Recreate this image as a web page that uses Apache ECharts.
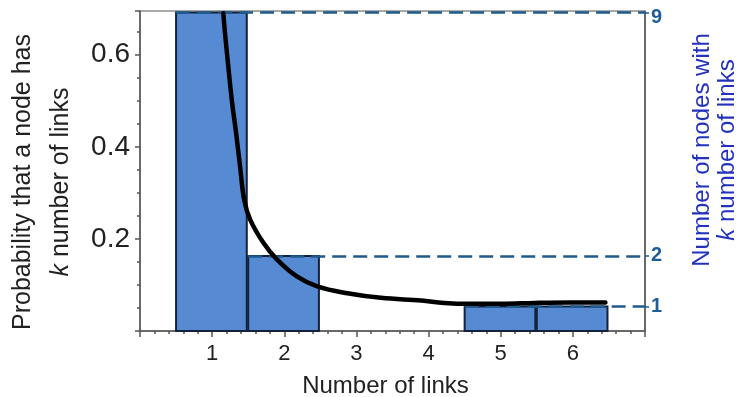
<!DOCTYPE html>
<html>
<head>
<meta charset="utf-8">
<script src="https://cdn.jsdelivr.net/npm/echarts@6/dist/echarts.min.js"></script>
<style>
  html, body { margin: 0; padding: 0; background: #ffffff; }
  #chart { width: 739px; height: 397px; }
</style>
</head>
<body>
<div id="chart"></div>
<script>
// Degree distribution: k = number of links per node
var links = [1, 2, 5, 6];
var nodeCounts = [9, 2, 1, 1];
var probabilities = [0.692, 0.163, 0.053, 0.053];

// Fitted power-law style trend (k, P(k))
var trendK = [1.155, 1.178, 1.225, 1.272, 1.332, 1.388, 1.444, 1.527, 1.713, 1.900,
              2.179, 2.457, 2.876, 3.340, 3.898, 4.219, 4.550, 5.014, 5.474, 5.944, 6.451];
var trendP = [0.690, 0.647, 0.573, 0.502, 0.430, 0.356, 0.285, 0.242, 0.191, 0.155,
              0.118, 0.097, 0.082, 0.072, 0.066, 0.061, 0.059, 0.059, 0.061, 0.062, 0.062];

// Tick labels
var xTickLabels = ['1', '2', '3', '4', '5', '6'];
var yTickLabels = ['0.2', '0.4', '0.6'];

var FONT = '"Liberation Sans", Arial, Helvetica, sans-serif';
var X_MAX = 7;
var Y_MAX = 0.695;
var BAR_LEFT = 0.5, BAR_RIGHT = 0.48;

// one dashed guide per distinct count level, starting at the first bar with that count
var levelValues = [], levelStarts = [], levelCounts = [];
for (var i = 0; i < links.length; i++) {
  var idx = levelValues.indexOf(probabilities[i]);
  if (idx < 0) {
    levelValues.push(probabilities[i]);
    levelStarts.push(links[i] - BAR_LEFT);
    levelCounts.push(nodeCounts[i]);
  }
}

var barData = links.map(function (k, i) { return [k, probabilities[i]]; });
var trendData = trendK.map(function (k, i) { return [k, trendP[i]]; });
var guideLines = levelValues.map(function (p, i) {
  return [{ coord: [levelStarts[i], p] }, { coord: [X_MAX, p] }];
});

var chart = echarts.init(document.getElementById('chart'), null, { renderer: 'canvas' });

chart.setOption({
  animation: false,
  backgroundColor: '#ffffff',
  grid: {
    left: 140, right: 94, top: 11, bottom: 66,
    outerBoundsMode: 'none',
    containLabel: false,
    show: true, borderColor: '#555555', borderWidth: 1, backgroundColor: 'transparent'
  },
  xAxis: {
    type: 'value',
    min: 0, max: X_MAX, interval: 1,
    name: 'Number of links',
    nameLocation: 'middle',
    nameGap: 43,
    nameTextStyle: { fontFamily: FONT, fontSize: 24, color: '#222222', padding: [0, 14, 0, 0] },
    axisLine: { show: true, lineStyle: { color: '#555555', width: 1.5 } },
    axisTick: { show: true, inside: false, length: 6, lineStyle: { color: '#555555', width: 1.5 } },
    minorTick: { show: true, splitNumber: 5, length: 3, lineStyle: { color: '#555555', width: 1.5 } },
    splitLine: { show: false },
    axisLabel: {
      fontFamily: FONT, fontSize: 22, color: '#222222', margin: 12,
      formatter: function (v) {
        var i = xTickLabels.indexOf(String(v));
        return i >= 0 ? xTickLabels[i] : '';
      }
    }
  },
  yAxis: [{
    type: 'value',
    position: 'left',
    min: 0, max: Y_MAX, interval: 0.2,
    name: 'Probability that a node has\n{k|k} number of links',
    nameLocation: 'middle',
    nameRotate: 90,
    nameGap: 52,
    nameTextStyle: {
      fontFamily: FONT, fontSize: 25, lineHeight: 38, color: '#222222',
      padding: [0, 22, 0, 0],
      rich: { k: { fontFamily: FONT, fontSize: 25, fontStyle: 'italic', color: '#222222' } }
    },
    axisLine: { show: true, lineStyle: { color: '#555555', width: 1.5 } },
    axisTick: { show: true, inside: false, length: 5, lineStyle: { color: '#555555', width: 1.5 } },
    minorTick: { show: true, splitNumber: 4, length: 3, lineStyle: { color: '#555555', width: 1.5 } },
    splitLine: { show: false },
    axisLabel: {
      fontFamily: FONT, fontSize: 28, color: '#222222', margin: 10,
      showMinLabel: false, showMaxLabel: false,
      formatter: function (v) {
        var s = v.toFixed(1);
        return yTickLabels.indexOf(s) >= 0 ? s : '';
      }
    }
  }, {
    type: 'value',
    position: 'right',
    min: 0, max: Y_MAX,
    name: 'Number of nodes with\n{k|k} number of links',
    nameLocation: 'middle',
    nameRotate: 90,
    nameGap: 45,
    nameTextStyle: {
      fontFamily: FONT, fontSize: 24, lineHeight: 25, color: '#2332bd',
      padding: [0, 0, 0, 42],
      rich: { k: { fontFamily: FONT, fontSize: 24, fontStyle: 'italic', color: '#2332bd' } }
    },
    axisLine: { show: true, lineStyle: { color: '#555555', width: 1.5 } },
    axisTick: { show: true, inside: false, length: 4, customValues: levelValues,
                lineStyle: { color: '#1f5a8c', width: 1.5 } },
    splitLine: { show: false },
    axisLabel: {
      customValues: levelValues,
      fontFamily: FONT, fontSize: 20, fontWeight: 'bold', color: '#1f5d99', margin: 6,
      formatter: function (v) {
        var i = levelValues.indexOf(v);
        if (i < 0) return '';
        return v === Math.max.apply(null, levelValues) ? '{top|' + levelCounts[i] + '}' : String(levelCounts[i]);
      },
      rich: { top: { fontFamily: FONT, fontSize: 20, fontWeight: 'bold', color: '#1f5d99', padding: [10, 0, 0, 0] } }
    }
  }],
  series: [{
    name: 'Nodes',
    type: 'custom',
    z: 2,
    data: barData,
    encode: { x: 0, y: 1 },
    renderItem: function (params, api) {
      var k = api.value(0), p = api.value(1);
      var tl = api.coord([k - BAR_LEFT, p]);
      var br = api.coord([k + BAR_RIGHT, 0]);
      return {
        type: 'rect',
        shape: { x: tl[0], y: tl[1], width: br[0] - tl[0], height: br[1] - tl[1] },
        style: { fill: '#568bd4', stroke: '#13223a', lineWidth: 2 }
      };
    },
    markLine: {
      silent: true,
      symbol: ['none', 'none'],
      label: { show: false },
      lineStyle: { color: '#1f5a8c', width: 2.5, type: [14, 7] },
      data: guideLines,
      z: 3
    }
  }, {
    name: 'Trend',
    type: 'line',
    z: 5,
    data: trendData,
    smooth: 0.4,
    showSymbol: false,
    lineStyle: { color: '#000000', width: 4.5, cap: 'round', join: 'round' }
  }]
});
</script>
</body>
</html>
